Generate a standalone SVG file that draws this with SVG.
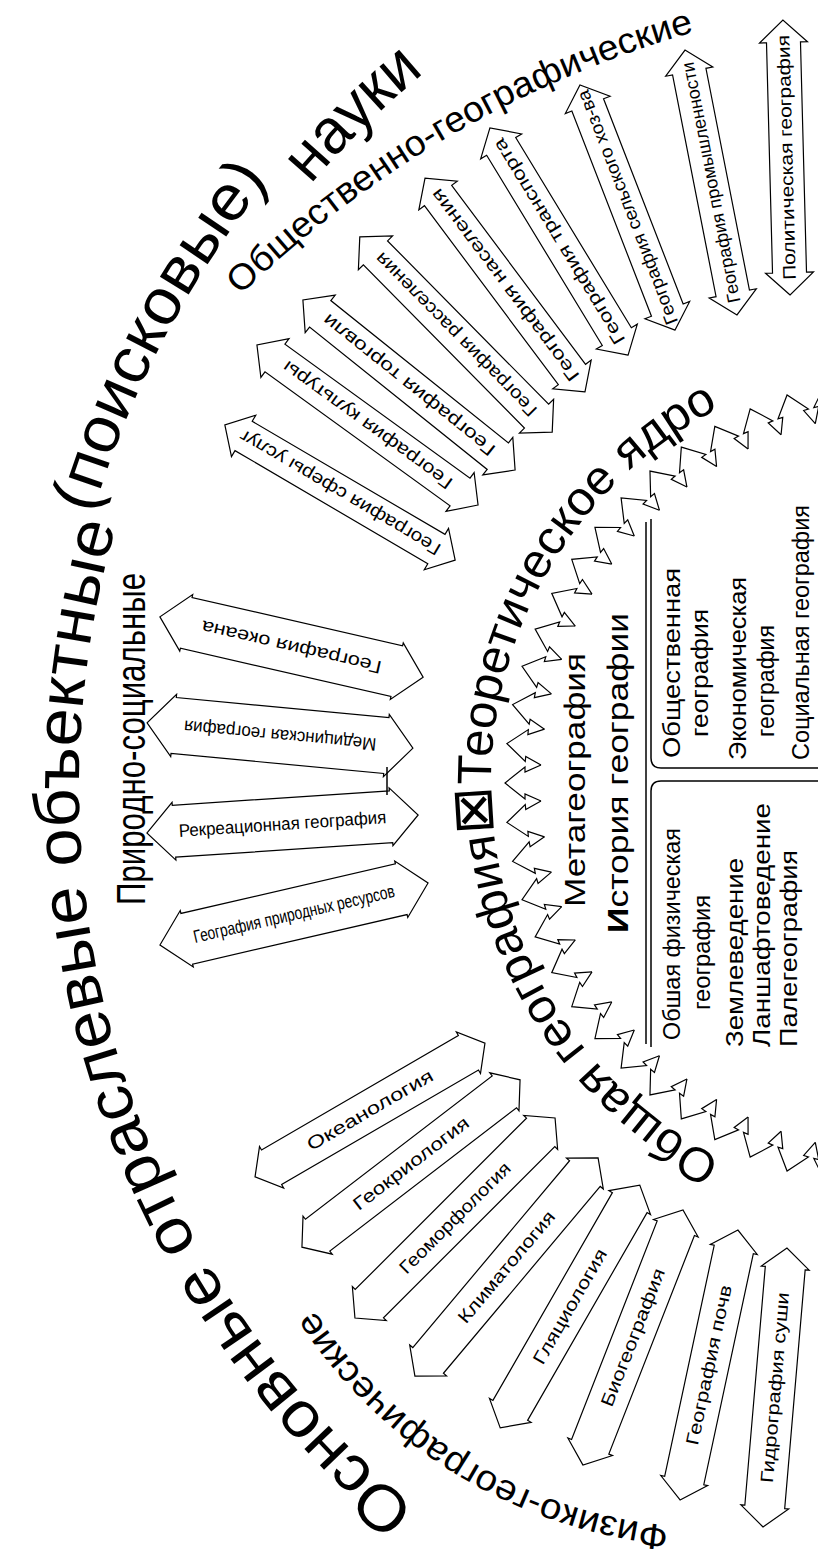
<svg xmlns="http://www.w3.org/2000/svg" width="818" height="1564" viewBox="0 0 818 1564">
<style>
.t{font-family:"Liberation Sans","DejaVu Sans",Arial,sans-serif;fill:#000}
.ar{fill:#fff;stroke:#000;stroke-width:1.2;vector-effect:non-scaling-stroke}
.zz{fill:none;stroke:#000;stroke-width:1.2}
.ln{fill:none;stroke:#000;stroke-width:1.5}
.at{font-size:18px}
.ct{font-size:24px}
</style>
<defs>
<path id="pa" class="ar" d="M-139,0 L-119,-24 L-119,-20 L119,-20 L119,-24 L139,0 L119,24 L119,20 L-119,20 L-119,24 Z"/>
<path id="sa" class="ar" d="M-135,0 L-113,-24 L-113,-17 L113,-17 L113,-24 L135,0 L113,24 L113,17 L-113,17 L-113,24 Z"/>
<path id="na" class="ar" d="M-135,0 L-108,-29 L-108,-26 L108,-26 L108,-29 L135,0 L108,29 L108,26 L-108,26 L-108,29 Z"/>
<path id="zz" class="zz" d="M541,801 L525,794 L525,799 L505,783 L525,767 L525,772 L541,765"/>
<path id="pTitleA" d="M416.6,1508.7 A938,938 0 0,1 117.6,521.6"/>
<path id="pTitleB" d="M92.7,514.2 A964,964 0 0,1 271.1,177.4"/>
<path id="pTitleC" d="M310.6,184.7 A929,929 0 0,1 426.1,71.2"/>
<path id="pSoc" d="M240.4,295.2 A1078,1078 0 0,1 698.5,30.7"/>
<path id="pPhys" d="M669.2,1525.8 A478,478 0 0,1 312.3,1307.5"/>
<path id="pCore" d="M721.4,1159 A422,422 0 0,1 724.7,405.4"/>
</defs>
<rect width="818" height="1564" fill="#fff"/>

<g id="ring">
<use href="#zz" transform="rotate(-77.56 913 783)"/>
<use href="#zz" transform="rotate(-72.02 913 783)"/>
<use href="#zz" transform="rotate(-66.48 913 783)"/>
<use href="#zz" transform="rotate(-60.94 913 783)"/>
<use href="#zz" transform="rotate(-55.4 913 783)"/>
<use href="#zz" transform="rotate(-49.86 913 783)"/>
<use href="#zz" transform="rotate(-44.32 913 783)"/>
<use href="#zz" transform="rotate(-38.78 913 783)"/>
<use href="#zz" transform="rotate(-33.24 913 783)"/>
<use href="#zz" transform="rotate(-27.7 913 783)"/>
<use href="#zz" transform="rotate(-22.16 913 783)"/>
<use href="#zz" transform="rotate(-16.62 913 783)"/>
<use href="#zz" transform="rotate(-11.08 913 783)"/>
<use href="#zz" transform="rotate(-5.54 913 783)"/>
<use href="#zz"/>
<use href="#zz" transform="rotate(5.54 913 783)"/>
<use href="#zz" transform="rotate(11.08 913 783)"/>
<use href="#zz" transform="rotate(16.62 913 783)"/>
<use href="#zz" transform="rotate(22.16 913 783)"/>
<use href="#zz" transform="rotate(27.7 913 783)"/>
<use href="#zz" transform="rotate(33.24 913 783)"/>
<use href="#zz" transform="rotate(38.78 913 783)"/>
<use href="#zz" transform="rotate(44.32 913 783)"/>
<use href="#zz" transform="rotate(49.86 913 783)"/>
<use href="#zz" transform="rotate(55.4 913 783)"/>
<use href="#zz" transform="rotate(60.94 913 783)"/>
<use href="#zz" transform="rotate(66.48 913 783)"/>
<use href="#zz" transform="rotate(72.02 913 783)"/>
<use href="#zz" transform="rotate(77.56 913 783)"/>
</g>

<g id="core-title">
<text class="t" font-size="48"><textPath href="#pCore" textLength="925" lengthAdjust="spacingAndGlyphs">Общая география<tspan font-size="56">⊠</tspan>Теоретическое ядро</textPath></text>
</g>

<g id="core">
<path class="ln" d="M651,519 L651,758 Q651,768 661,768 L818,768"/>
<path class="ln" d="M651,1047 L651,791 Q651,781 661,781 L818,781"/>
<path class="ln" d="M646,522 L646,1044"/>
<text class="t" font-size="30" transform="translate(585,907) rotate(-90)" textLength="254" lengthAdjust="spacingAndGlyphs">Метагеография</text>
<text class="t" font-size="30" transform="translate(628,933) rotate(-90)" textLength="320" lengthAdjust="spacingAndGlyphs"><tspan font-weight="bold">И</tspan>стория географии</text>
</g>

<g id="box-social">
<text class="t ct" transform="translate(680,758) rotate(-90)" textLength="190" lengthAdjust="spacingAndGlyphs">Общественная</text>
<text class="t ct" transform="translate(708,737) rotate(-90)" textLength="128" lengthAdjust="spacingAndGlyphs">география</text>
<text class="t ct" transform="translate(746,760) rotate(-90)" textLength="183" lengthAdjust="spacingAndGlyphs">Экономическая</text>
<text class="t ct" transform="translate(774,737) rotate(-90)" textLength="112" lengthAdjust="spacingAndGlyphs">география</text>
<text class="t ct" transform="translate(809,760) rotate(-90)" textLength="255" lengthAdjust="spacingAndGlyphs">Социальная география</text>
</g>

<g id="box-physical">
<text class="t ct" transform="translate(680,1040) rotate(-90)" textLength="212" lengthAdjust="spacingAndGlyphs">Обшая физическая</text>
<text class="t ct" transform="translate(710,1010) rotate(-90)" textLength="115" lengthAdjust="spacingAndGlyphs">география</text>
<text class="t ct" transform="translate(743,1047) rotate(-90)" textLength="189" lengthAdjust="spacingAndGlyphs">Землеведение</text>
<text class="t ct" transform="translate(770,1047) rotate(-90)" textLength="244" lengthAdjust="spacingAndGlyphs">Ланшафтоведение</text>
<text class="t ct" transform="translate(797,1047) rotate(-90)" textLength="197" lengthAdjust="spacingAndGlyphs">Палегеография</text>
</g>

<g id="physical-arrows">
<g id="n-okean" transform="translate(370,1110) rotate(-30.2)"><use href="#pa" transform="scale(0.957,1)"/><text class="t at" text-anchor="middle" y="6" textLength="143" lengthAdjust="spacingAndGlyphs">Океанология</text></g>
<g id="n-geokrio" transform="translate(411,1163.5) rotate(-37.5)"><use href="#pa" transform="scale(0.989,1)"/><text class="t at" text-anchor="middle" y="6" textLength="141" lengthAdjust="spacingAndGlyphs">Геокриология</text></g>
<g id="n-geomorf" transform="translate(455,1218) rotate(-45)"><use href="#pa" transform="scale(1.018,1)"/><text class="t at" text-anchor="middle" y="6" textLength="149" lengthAdjust="spacingAndGlyphs">Геоморфология</text></g>
<g id="n-klimat" transform="translate(506.5,1267) rotate(-50)"><use href="#pa" transform="scale(1.025,1)"/><text class="t at" text-anchor="middle" y="6" textLength="140" lengthAdjust="spacingAndGlyphs">Климатология</text></g>
<g id="n-glacio" transform="translate(570,1306.5) rotate(-60.1)"><use href="#pa" transform="scale(1.007,1)"/><text class="t at" text-anchor="middle" y="6" textLength="130" lengthAdjust="spacingAndGlyphs">Гляциология</text></g>
<g id="n-biogeo" transform="translate(633,1337.5) rotate(-68.6)"><use href="#pa" transform="scale(0.986,1)"/><text class="t at" text-anchor="middle" y="6" textLength="147" lengthAdjust="spacingAndGlyphs">Биогеография</text></g>
<g id="n-pochv" transform="translate(709,1365) rotate(-77.9)"><use href="#pa" transform="scale(0.993,1)"/><text class="t at" text-anchor="middle" y="6" textLength="163" lengthAdjust="spacingAndGlyphs">География почв</text></g>
<g id="n-gidro" transform="translate(775,1387.5) rotate(-85.1)"><use href="#pa" transform="scale(1.007,1)"/><text class="t at" text-anchor="middle" y="6" textLength="191" lengthAdjust="spacingAndGlyphs">Гидрография суши</text></g>
</g>

<g id="social-arrows">
<g id="n-uslug" transform="translate(340,492.5) rotate(-149.6)"><use href="#sa" transform="scale(0.989,1)"/><text class="t at" text-anchor="middle" y="6" textLength="230" lengthAdjust="spacingAndGlyphs">География сферы услуг</text></g>
<g id="n-kultury" transform="translate(367.5,425) rotate(-144.1)"><use href="#sa" transform="scale(1.011,1)"/><text class="t at" text-anchor="middle" y="6" textLength="205" lengthAdjust="spacingAndGlyphs">География культуры</text></g>
<g id="n-torgovli" transform="translate(409,385) rotate(-141.3)"><use href="#sa" transform="scale(1.007,1)"/><text class="t at" text-anchor="middle" y="6" textLength="215" lengthAdjust="spacingAndGlyphs">География торговли</text></g>
<g id="n-rassel" transform="translate(456,334.5) rotate(-134.6)"><use href="#sa" transform="scale(1.015,1)"/><text class="t at" text-anchor="middle" y="6" textLength="222" lengthAdjust="spacingAndGlyphs">География расселения</text></g>
<g id="n-nasel" transform="translate(505,285) rotate(-126.8)"><use href="#sa" transform="scale(0.989,1)"/><text class="t at" text-anchor="middle" y="6" textLength="235" lengthAdjust="spacingAndGlyphs">География населения</text></g>
<g id="n-transp" transform="translate(559,241.5) rotate(-121.3)"><use href="#sa" transform="scale(0.985,1)"/><text class="t at" text-anchor="middle" y="6" textLength="237" lengthAdjust="spacingAndGlyphs">География транспорта</text></g>
<g id="n-selhoz" transform="translate(627.5,207.5) rotate(-111.2)"><use href="#sa" transform="scale(0.974,1)"/><text class="t at" text-anchor="middle" y="6" textLength="250" lengthAdjust="spacingAndGlyphs">География сельского хоз-ва</text></g>
<g id="n-prom" transform="translate(711,182.5) rotate(-101.1)"><use href="#sa"/><text class="t at" text-anchor="middle" y="6" textLength="245" lengthAdjust="spacingAndGlyphs">География промышленности</text></g>
<g id="n-polit" transform="translate(786.5,157.5) rotate(-91.5)"><use href="#sa" transform="scale(1.019,1)"/><text class="t at" text-anchor="middle" y="6" textLength="245" lengthAdjust="spacingAndGlyphs">Политическая география</text></g>
</g>

<g id="nature-social-arrows">
<g id="n-okeana" transform="translate(291.5,647) rotate(-167.1)"><use href="#na"/><text class="t at" text-anchor="middle" y="6" textLength="184" lengthAdjust="spacingAndGlyphs">География океана</text></g>
<g id="n-medic" transform="translate(280,735.5) rotate(-174.6)"><use href="#na" transform="scale(0.989,1.08)"/><text class="t at" text-anchor="middle" y="6" textLength="193" lengthAdjust="spacingAndGlyphs">Медицинская география</text></g>
<g id="n-rekr" transform="translate(282.5,824) rotate(-3.8)"><use href="#na" transform="scale(1.007,1)"/><text class="t at" text-anchor="middle" y="6" textLength="208" lengthAdjust="spacingAndGlyphs">Рекреационная география</text></g>
<g id="n-resurs" transform="translate(294,914) rotate(-13)"><use href="#na" transform="scale(1.019,1)"/><text class="t at" text-anchor="middle" y="6" textLength="206" lengthAdjust="spacingAndGlyphs">География природных ресурсов</text></g>
<path class="ln" d="M387,767 L387,795"/>
</g>

<g id="headings">
<text class="t" font-size="64"><textPath href="#pTitleA" textLength="1088" lengthAdjust="spacingAndGlyphs">Основные отраслевые объектные</textPath></text>
<text class="t" font-size="64"><textPath href="#pTitleB" textLength="380" lengthAdjust="spacingAndGlyphs">(поисковые)</textPath></text>
<text class="t" font-size="64"><textPath href="#pTitleC" textLength="160" lengthAdjust="spacingAndGlyphs">науки</textPath></text>
<text class="t" font-size="36"><textPath href="#pSoc" textLength="530" lengthAdjust="spacingAndGlyphs">Общественно-географические</textPath></text>
<text class="t" font-size="36"><textPath href="#pPhys" textLength="430" lengthAdjust="spacingAndGlyphs">Физико-географические</textPath></text>
<text class="t" font-size="40" transform="translate(145,905) rotate(-90)" textLength="332" lengthAdjust="spacingAndGlyphs">Природно-социальные</text>
</g>
</svg>
